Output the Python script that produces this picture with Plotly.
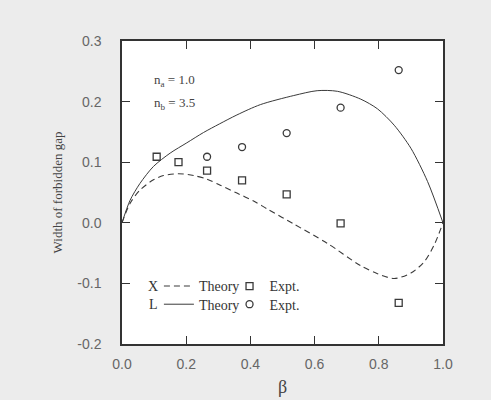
import plotly.graph_objects as go

# Theory curves
beta_L = [0, 0.025, 0.056, 0.098, 0.15, 0.202, 0.254, 0.303, 0.358, 0.431,
          0.535, 0.608, 0.671, 0.744, 0.796, 0.848, 0.9, 0.952, 1.0]
gap_L = [0, 0.037, 0.065, 0.093, 0.115, 0.132, 0.149, 0.163, 0.178, 0.195,
         0.210, 0.218, 0.217, 0.204, 0.188, 0.161, 0.123, 0.068, 0.0]

beta_X = [0, 0.025, 0.056, 0.098, 0.129, 0.176, 0.223, 0.265, 0.306, 0.358,
          0.41, 0.452, 0.535, 0.64, 0.744, 0.796, 0.848, 0.9, 0.942, 0.973, 1.0]
gap_X = [0, 0.032, 0.054, 0.071, 0.078, 0.081, 0.078, 0.072, 0.062, 0.049,
         0.036, 0.023, -0.002, -0.034, -0.071, -0.084, -0.092, -0.083, -0.064, -0.036, 0.0]

# Experimental points
beta_Xexp = [0.108, 0.176, 0.265, 0.374, 0.513, 0.681, 0.862]
gap_Xexp = [0.109, 0.100, 0.086, 0.070, 0.047, -0.001, -0.132]
beta_Lexp = [0.265, 0.374, 0.513, 0.681, 0.862]
gap_Lexp = [0.109, 0.125, 0.148, 0.190, 0.252]

x_ticks = [0.0, 0.2, 0.4, 0.6, 0.8, 1.0]
x_ticklabels = ["0.0", "0.2", "0.4", "0.6", "0.8", "1.0"]
y_ticks = [-0.2, -0.1, 0.0, 0.1, 0.2, 0.3]
y_ticklabels = ["-0.2", "-0.1", "0.0", "0.1", "0.2", "0.3"]

serif = "Liberation Serif, Times New Roman, serif"
sans = "Liberation Sans, Arial, sans-serif"
ink = "#3a3a3a"

fig = go.Figure()
fig.add_trace(go.Scatter(x=beta_X, y=gap_X, mode="lines", name="Theory",
                         line=dict(color=ink, width=1.1, dash="6px,4px", shape="spline", smoothing=0.8),
                         legend="legend"))
fig.add_trace(go.Scatter(x=beta_Xexp, y=gap_Xexp, mode="markers", name="Expt.",
                         marker=dict(symbol="square-open", size=7, color=ink, line=dict(width=1.3)),
                         legend="legend3"))
fig.add_trace(go.Scatter(x=beta_L, y=gap_L, mode="lines", name="Theory",
                         line=dict(color=ink, width=1.0, shape="spline", smoothing=0.8),
                         legend="legend2"))
fig.add_trace(go.Scatter(x=beta_Lexp, y=gap_Lexp, mode="markers", name="Expt.",
                         marker=dict(symbol="circle-open", size=7, color=ink, line=dict(width=1.3)),
                         legend="legend4"))

axis_common = dict(showline=True, linecolor="#333", linewidth=1.5, mirror="ticks",
                   ticks="inside", ticklen=8, tickcolor="#333", tickwidth=1.3,
                   showgrid=False, zeroline=False, automargin=False,
                   tickfont=dict(family=sans, size=14, color="#666"))

fig.update_xaxes(range=[0, 1.0], tickvals=x_ticks, ticktext=x_ticklabels,
                 ticklabelstandoff=6,
                 title=dict(text="β", font=dict(family=serif, size=18, color="#444"), standoff=10),
                 **axis_common)
fig.update_yaxes(range=[-0.2, 0.3], tickvals=y_ticks, ticktext=y_ticklabels,
                 ticklabelstandoff=16,
                 title=dict(text="Width of forbidden gap", font=dict(family=serif, size=13, color="#444"), standoff=12),
                 **axis_common)

legend_common = dict(orientation="h", xanchor="left", yanchor="middle",
                     bgcolor="rgba(0,0,0,0)", font=dict(family=serif, size=14, color="#333"),
                     itemwidth=30, tracegroupgap=0)
row1, row2 = 0.19, 0.13
fig.update_layout(
    legend=dict(x=0.115, y=row1, **legend_common),
    legend2=dict(x=0.115, y=row2, **legend_common),
    legend3=dict(x=0.335, y=row1, **legend_common),
    legend4=dict(x=0.335, y=row2, **legend_common),
)

fig.add_annotation(x=0.097, y=row1, xref="paper", yref="paper", text="X", showarrow=False,
                   font=dict(family=serif, size=14, color="#333"), xanchor="center", yanchor="middle")
fig.add_annotation(x=0.097, y=row2, xref="paper", yref="paper", text="L", showarrow=False,
                   font=dict(family=serif, size=14, color="#333"), xanchor="center", yanchor="middle")
fig.add_annotation(x=0.095, y=0.87, xref="paper", yref="paper", text="n<sub>a</sub> = 1.0",
                   showarrow=False, font=dict(family=serif, size=13, color="#444"), xanchor="left", yanchor="middle")
fig.add_annotation(x=0.095, y=0.795, xref="paper", yref="paper", text="n<sub>b</sub> = 3.5",
                   showarrow=False, font=dict(family=serif, size=13, color="#444"), xanchor="left", yanchor="middle")

fig.update_layout(width=491, height=400,
                  margin=dict(l=122, r=48, t=41, b=56),
                  paper_bgcolor="#ececec", plot_bgcolor="white",
                  showlegend=True)

fig.write_html("out.html")
